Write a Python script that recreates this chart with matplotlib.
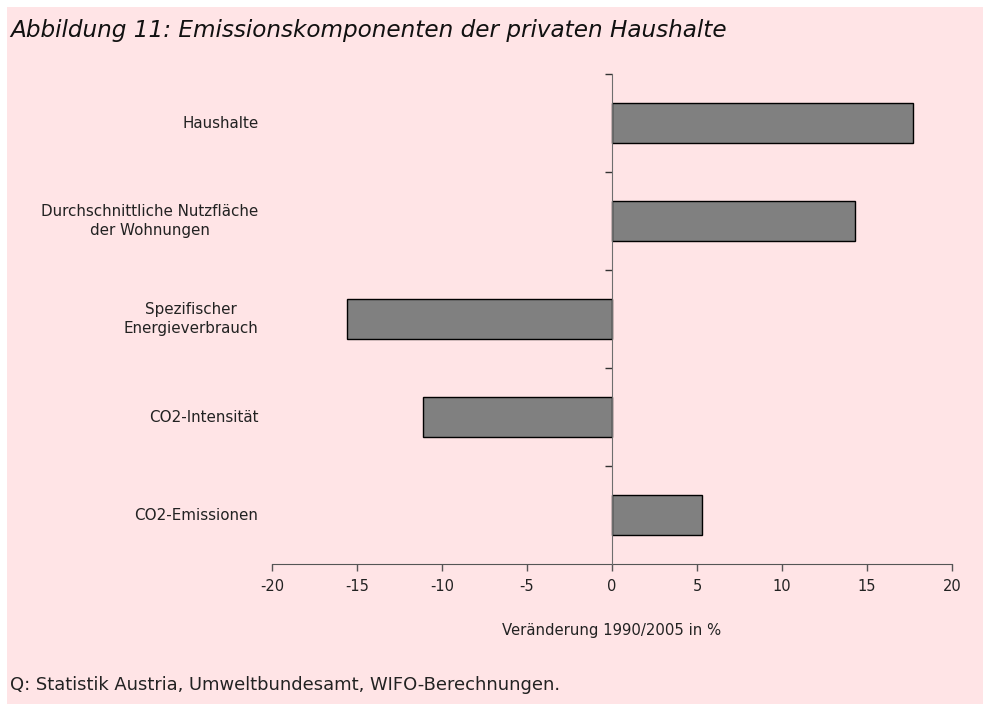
import matplotlib
matplotlib.use("Agg")
import matplotlib.pyplot as plt
from matplotlib.patches import Rectangle
from matplotlib.transforms import blended_transform_factory
import numpy as np

plt.rcParams['font.family'] = ['DejaVu Sans']

# Komponenten der Emissionsveränderung, von oben nach unten
kategorien = ["Haushalte",
              "Durchschnittliche Nutzfläche\nder Wohnungen",
              "Spezifischer\nEnergieverbrauch",
              "CO2-Intensität",
              "CO2-Emissionen"]
werte = [17.7, 14.3, -15.6, -11.1, 5.3]
xticks = [-20, -15, -10, -5, 0, 5, 10, 15, 20]

bg = "#FFE4E6"
txt = "#222222"

fig = plt.figure(figsize=(9.83, 7.04), dpi=100, facecolor="white")
fig.patches.append(Rectangle((7 / 983, 0), 1, 1 - 7 / 704, transform=fig.transFigure,
                             facecolor=bg, edgecolor="none", zorder=-10))

ax = fig.add_axes([272 / 983, 1 - 564 / 704, 680 / 983, 490 / 704])
ax.set_facecolor("none")

n = len(kategorien)
pos = np.arange(n) + 0.5
ax.barh(pos, werte, height=0.4, color="#808080", edgecolor="black", linewidth=1.0, zorder=2)

ax.set_xlim(-20, 20)
ax.set_ylim(n, 0)

ax.spines['top'].set_visible(False)
ax.spines['right'].set_visible(False)
ax.spines['left'].set_position(('data', 0))
ax.spines['left'].set_color("#6e6e6e")
ax.spines['left'].set_zorder(3)
ax.spines['bottom'].set_color("#555555")

ax.set_xticks(xticks)
ax.set_xticklabels([str(t) for t in xticks], fontsize=10.5, color=txt)
ax.tick_params(axis='x', direction='out', length=5, width=1, color="#555555", pad=6)

ax.set_yticks(np.arange(n))
ax.set_yticklabels([])
ax.tick_params(axis='y', direction='out', length=5, width=1, color="#333333")

# Kategorienamen links neben der Grafik, nicht an der Nulllinie
lab_tr = blended_transform_factory(ax.transAxes, ax.transData)
for p, k in zip(pos, kategorien):
    ax.text(-0.02, p, k, transform=lab_tr, ha='right', va='center',
            multialignment='center', fontsize=10.9, color=txt, linespacing=1.3)

ax.set_xlabel("Veränderung 1990/2005 in %", fontsize=10.7, color=txt, labelpad=21)

fig.text(10 / 983, 1 - 30 / 704, "Abbildung 11: Emissionskomponenten der privaten Haushalte",
         fontsize=16.7, style='italic', color="#111111", ha='left', va='center')
fig.text(10 / 983, 1 - 685 / 704, "Q: Statistik Austria, Umweltbundesamt, WIFO-Berechnungen.",
         fontsize=12.9, color=txt, ha='left', va='center')

fig.savefig("out.png", dpi=100, facecolor=fig.get_facecolor())
